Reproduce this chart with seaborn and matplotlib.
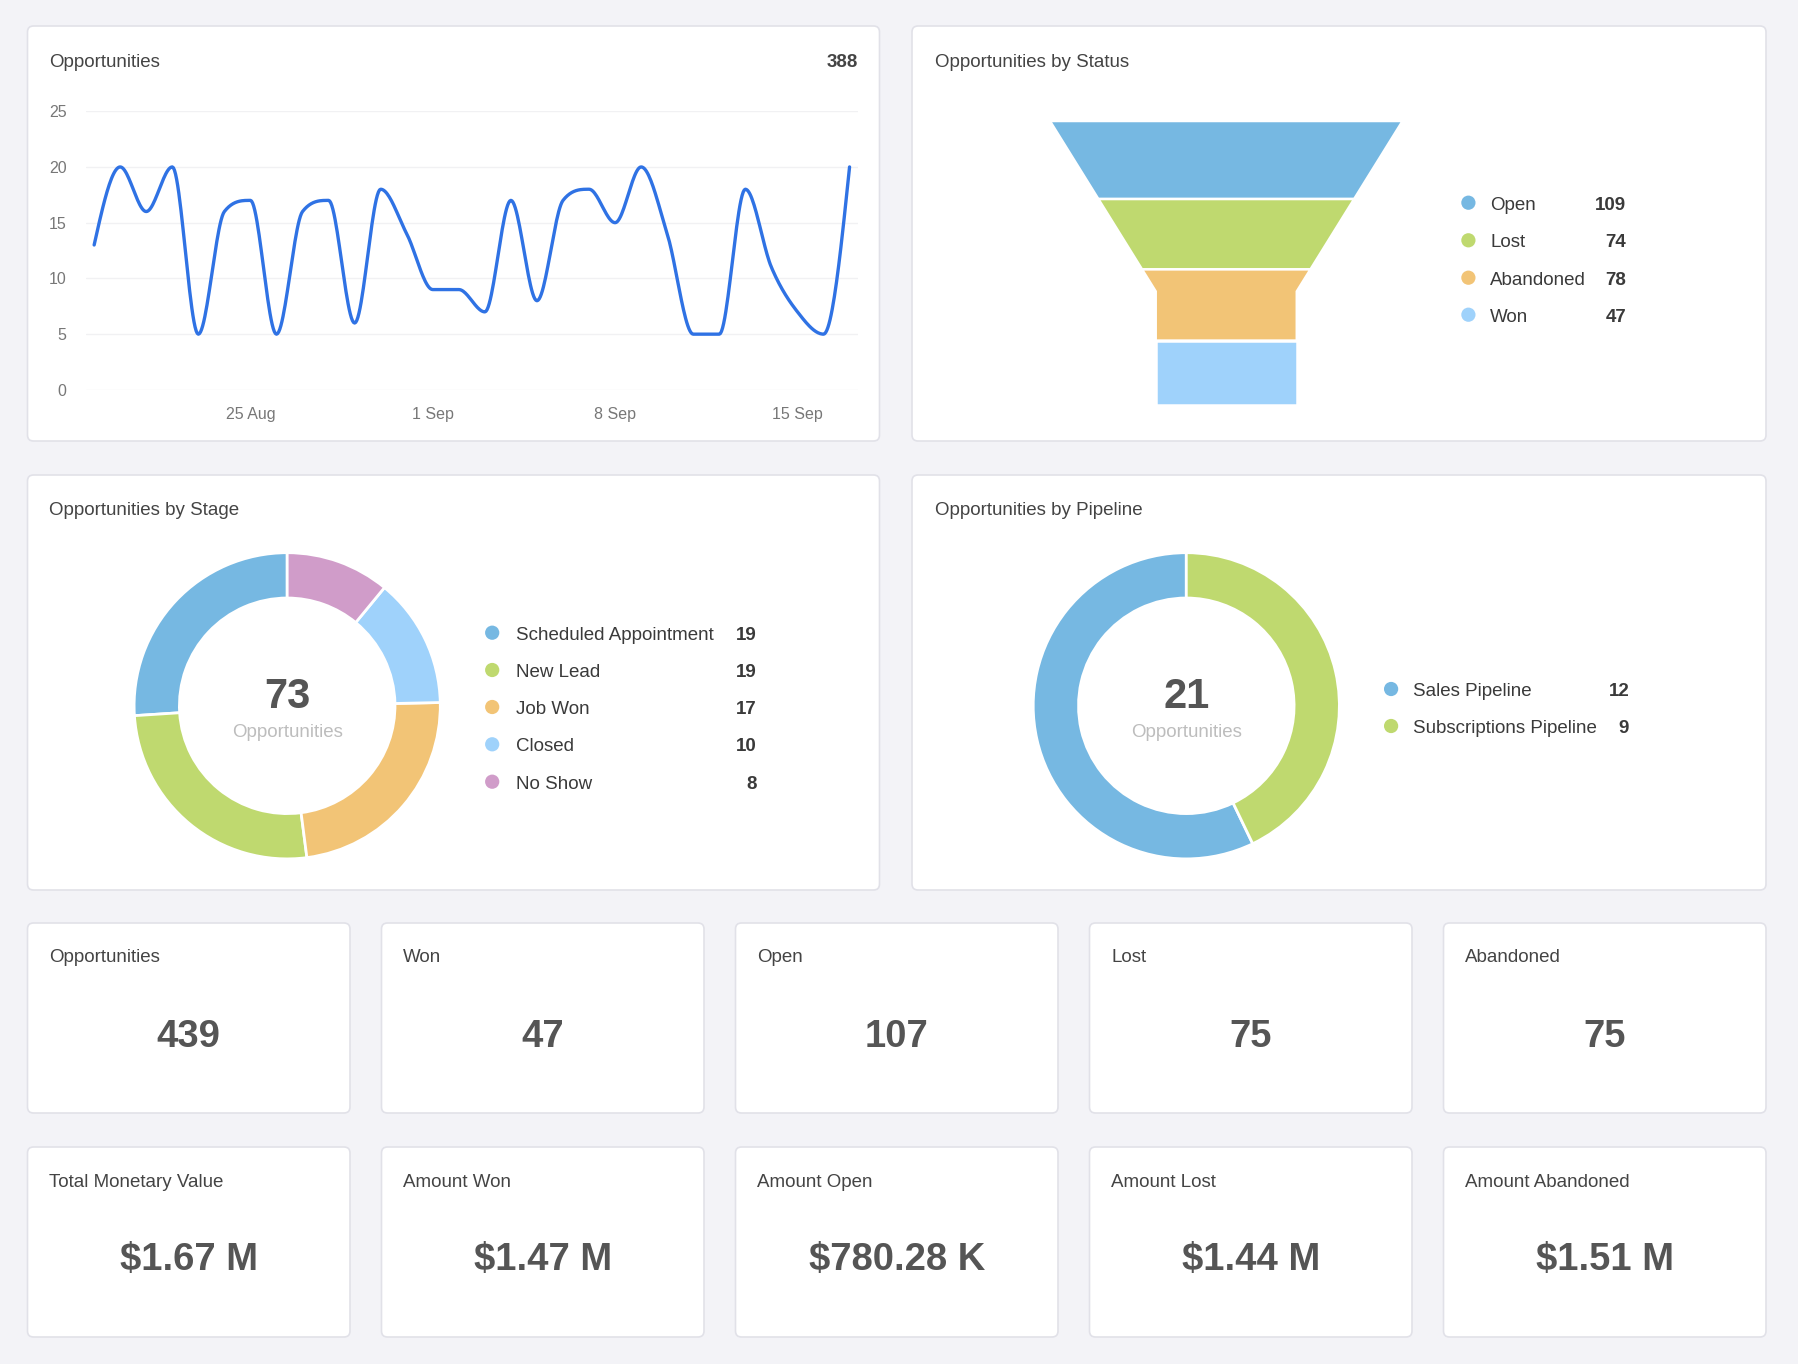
import numpy as np
import pandas as pd
import seaborn as sns
import matplotlib.pyplot as plt
from matplotlib.patches import FancyBboxPatch

# ---- data ----
start_date = "2024-08-19"
daily_counts = [13, 20, 16, 20, 5, 16, 17, 5, 16, 17,
                6, 18, 14, 9, 9, 7, 17, 8, 17, 18,
                15, 20, 14, 5, 5, 18, 11, 7, 5, 20]
date_ticks = ["2024-08-25", "2024-09-01", "2024-09-08", "2024-09-15"]
date_tick_labels = ["25 Aug", "1 Sep", "8 Sep", "15 Sep"]
line_total = 388

status_labels = ["Open", "Lost", "Abandoned", "Won"]
status_values = [109, 74, 78, 47]

stage_labels = ["Scheduled Appointment", "New Lead", "Job Won", "Closed", "No Show"]
stage_values = [19, 19, 17, 10, 8]

pipeline_labels = ["Sales Pipeline", "Subscriptions Pipeline"]
pipeline_values = [12, 9]

kpi_titles = ["Opportunities", "Won", "Open", "Lost", "Abandoned"]
kpi_values = ["439", "47", "107", "75", "75"]
amount_titles = ["Total Monetary Value", "Amount Won", "Amount Open", "Amount Lost", "Amount Abandoned"]
amount_values = ["$1.67 M", "$1.47 M", "$780.28 K", "$1.44 M", "$1.51 M"]

# ---- style ----
BLUE = "#76b8e2"
GREEN = "#bfd96f"
ORANGE = "#f2c476"
LIGHTBLUE = "#9fd2fb"
PURPLE = "#d09cc9"
status_colors = [BLUE, GREEN, ORANGE, LIGHTBLUE]
stage_colors = [BLUE, GREEN, ORANGE, LIGHTBLUE, PURPLE]
pipeline_colors = [BLUE, GREEN]

TITLE_C = "#444444"
VALUE_C = "#555555"
FONT = ["Liberation Sans", "DejaVu Sans"]
DY = 2.5  # small nudge so text sits like the reference

sns.set_style("white")
plt.rcParams["font.family"] = FONT

W, H = 1798, 1364
fig = plt.figure(figsize=(W / 100, H / 100), dpi=100)
fig.patch.set_facecolor("#f3f3f7")

bg = fig.add_axes([0, 0, 1, 1])
bg.set_xlim(0, W)
bg.set_ylim(H, 0)
bg.axis("off")
bg.set_zorder(0)


def px_axes(x0, y0, x1, y1):
    a = fig.add_axes([x0 / W, 1 - y1 / H, (x1 - x0) / W, (y1 - y0) / H])
    a.set_facecolor("none")
    a.set_zorder(2)
    return a


def card(x0, y0, x1, y1):
    bg.add_patch(FancyBboxPatch((x0, y0), x1 - x0, y1 - y0,
                                boxstyle="round,pad=0,rounding_size=6",
                                fc="white", ec="#e1e1e8", lw=1.2))


def title(x, y, s):
    bg.text(x, y + DY, s, fontsize=13.5, color=TITLE_C, va="center", ha="left")


def legend(x_marker, x_label, x_value, ys, labels, values, colors):
    bg.scatter([x_marker] * len(ys), ys, s=105, c=colors, linewidths=0, zorder=3)
    for y, lab, v in zip(ys, labels, values):
        bg.text(x_label, y + DY, lab, fontsize=13.5, color="#3a3a3a", va="center", ha="left")
        bg.text(x_value, y + DY, str(v), fontsize=13.5, color="#3a3a3a", va="center",
                ha="right", fontweight="bold")


# ---- cards ----
card(27.5, 26, 879.5, 441)
card(912, 26, 1766, 441)
card(27.5, 475, 879.5, 890)
card(912, 475, 1766, 890)
kpi_x = [27.5 + 354 * i for i in range(5)]
for x in kpi_x:
    card(x, 923, x + 322.5, 1113)
    card(x, 1147, x + 322.5, 1337)

# ---- line chart ----
title(49.3, 59.6, "Opportunities")
bg.text(857.7, 59.6 + DY, str(line_total), fontsize=13.5, color=TITLE_C, va="center",
        ha="right", fontweight="bold")


def monotone_curve(y, n=24):
    # monotone cubic (Fritsch-Carlson), so the line never overshoots the points
    y = np.asarray(y, dtype=float)
    d = np.diff(y)
    m = np.zeros_like(y)
    for k in range(1, len(y) - 1):
        if d[k - 1] * d[k] > 0:
            p = (d[k - 1] + d[k]) / 2
            m[k] = np.sign(d[k]) * min(3 * abs(d[k - 1]), 3 * abs(d[k]), abs(p))
    m[0] = (3 * d[0] - m[1]) / 2
    m[-1] = (3 * d[-1] - m[-2]) / 2
    xs, ys = [], []
    t = np.linspace(0, 1, n, endpoint=False)
    h00 = 2 * t**3 - 3 * t**2 + 1
    h10 = t**3 - 2 * t**2 + t
    h01 = -2 * t**3 + 3 * t**2
    h11 = t**3 - t**2
    for k in range(len(y) - 1):
        xs.append(k + t)
        ys.append(h00 * y[k] + h10 * m[k] + h01 * y[k + 1] + h11 * m[k + 1])
    xs.append([len(y) - 1])
    ys.append([y[-1]])
    return np.concatenate(xs), np.concatenate(ys)


t_days, smooth_counts = monotone_curve(daily_counts)
base = pd.Timestamp(start_date)
df_line = pd.DataFrame({
    "date": base + pd.to_timedelta(t_days, unit="D"),
    "count": smooth_counts,
})

ax = px_axes(86, 111.2, 857.7, 389.9)
sns.lineplot(data=df_line, x="date", y="count", ax=ax, color="#2f72e4", lw=2.4)
ax.set_ylim(0, 25)
ax.set_xlim(base - pd.Timedelta(hours=7.5), base + pd.Timedelta(days=29, hours=7.5))
ax.set_yticks([0, 5, 10, 15, 20, 25])
ax.set_xticks(pd.to_datetime(date_ticks))
ax.set_xticklabels(date_tick_labels)
ax.set_xlabel("")
ax.set_ylabel("")
ax.yaxis.grid(True, color="#f1f1f3", lw=1)
ax.xaxis.grid(False)
for s in ax.spines.values():
    s.set_visible(False)
ax.tick_params(axis="both", length=0, labelsize=11.5, labelcolor="#777777")
ax.tick_params(axis="x", pad=12)
ax.tick_params(axis="y", pad=14)

# ---- funnel ----
title(934.6, 59.6, "Opportunities by Status")
axf = px_axes(1049.9, 121, 1402.6, 405)
neck_w, neck_at = 0.4, 0.6
weights = np.array(status_values, dtype=float) + 246
bounds = np.concatenate([[0], np.cumsum(weights)]) / weights.sum()


def half_width(y):
    return 0.5 * (1 - (1 - neck_w) * min(y / neck_at, 1.0))


for (ya, yb), col in zip(zip(bounds[:-1], bounds[1:]), status_colors):
    ys = [ya] + ([neck_at] if ya < neck_at < yb else []) + [yb]
    left = [(-half_width(y), y) for y in ys]
    right = [(half_width(y), y) for y in ys[::-1]]
    pts = np.array(left + right)
    axf.fill(pts[:, 0], pts[:, 1], color=col, ec="white", lw=1.8)
axf.set_xlim(-0.5, 0.5)
axf.set_ylim(1, 0)
axf.axis("off")

legend(1468.4, 1490.4, 1626.4, [202.7, 240.3, 277.7, 314.7],
       status_labels, status_values, status_colors)

# ---- donuts ----
R = 153.1


def donut(cx, cy, values, colors):
    a = px_axes(cx - R, cy - R, cx + R, cy + R)
    a.pie(values, colors=colors, startangle=90, counterclock=True,
          wedgeprops=dict(width=0.296, edgecolor="white", linewidth=2))
    a.set_xlim(-1, 1)
    a.set_ylim(-1, 1)
    a.axis("off")
    bg.text(cx, cy - 10.8 + DY, str(sum(values)), fontsize=30, fontweight="bold",
            color=VALUE_C, ha="center", va="center")
    bg.text(cx, cy + 24.6 + DY, "Opportunities", fontsize=13.5, color="#bdbdbd",
            ha="center", va="center")


title(49.3, 508, "Opportunities by Stage")
donut(287.2, 705.8, stage_values, stage_colors)
legend(492.2, 515.6, 757, [632.7, 670, 707, 744.3, 781.7],
       stage_labels, stage_values, stage_colors)

title(934.6, 508, "Opportunities by Pipeline")
donut(1186.3, 705.8, pipeline_values, pipeline_colors)
legend(1391.1, 1413.3, 1629.2, [689, 726], pipeline_labels, pipeline_values, pipeline_colors)

# ---- KPI cards ----
for x, t, v in zip(kpi_x, kpi_titles, kpi_values):
    title(x + 21.8, 955.2, t)
    bg.text(x + 161.25, 1034.3 + DY, v, fontsize=27.5, fontweight="bold", color=VALUE_C,
            ha="center", va="center")
for x, t, v in zip(kpi_x, amount_titles, amount_values):
    title(x + 21.8, 1180, t)
    bg.text(x + 161.25, 1257.9 + DY, v, fontsize=27.5, fontweight="bold", color=VALUE_C,
            ha="center", va="center")

plt.savefig("out.png", dpi=100, facecolor=fig.get_facecolor())
